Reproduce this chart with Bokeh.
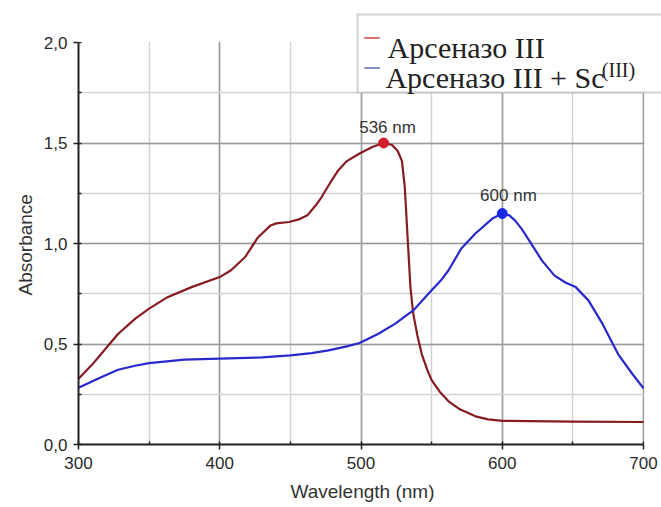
from bokeh.plotting import figure
from bokeh.models import (SingleIntervalTicker, CustomJSTickFormatter, Label,
                          BoxAnnotation, Range1d, Title)
from bokeh.embed import file_html
from bokeh.resources import INLINE

# ---- data ----
wl_red = [300, 310, 316, 328, 340, 350, 363, 380, 400, 408, 418, 427, 436, 440,
          449, 456, 462, 468, 472, 478, 484, 490, 499, 508, 516, 522, 526, 529,
          531, 533, 535, 537, 540, 543, 547, 550, 556, 562, 570, 581, 590, 600,
          650, 700]
abs_red = [0.327, 0.40, 0.45, 0.55, 0.625, 0.676, 0.733, 0.783, 0.833, 0.867,
           0.933, 1.03, 1.09, 1.10, 1.107, 1.12, 1.14, 1.19, 1.23, 1.30, 1.365,
           1.41, 1.448, 1.48, 1.50, 1.49, 1.46, 1.41, 1.28, 1.03, 0.78, 0.65,
           0.54, 0.45, 0.37, 0.32, 0.26, 0.215, 0.175, 0.14, 0.125, 0.118,
           0.114, 0.112]

wl_blue = [300, 316, 328, 340, 350, 375, 400, 430, 450, 465, 477, 490, 499, 512,
           524, 537, 550, 557, 562, 571, 581, 593, 600, 605, 609, 614, 619, 628,
           637, 645, 652, 661, 671, 682, 692, 700]
abs_blue = [0.282, 0.335, 0.372, 0.392, 0.405, 0.422, 0.427, 0.433, 0.443,
            0.455, 0.468, 0.488, 0.505, 0.55, 0.60, 0.667, 0.767, 0.82, 0.867,
            0.975, 1.05, 1.124, 1.149, 1.14, 1.115, 1.07, 1.016, 0.916, 0.84,
            0.805, 0.783, 0.717, 0.60, 0.45, 0.352, 0.28]

peak_red = (516, 1.50)
peak_blue = (600, 1.149)
peak_labels = ["536 nm", "600 nm"]
legend_labels = ["Арсеназо III", "Арсеназо III + Sc", "(III)"]

X_MIN, X_MAX = 300, 700
Y_MIN, Y_MAX = 0.0, 2.0

RED = "#861c22"
BLUE = "#2828cc"

# frame extends to the top and right edge of the canvas so that the legend
# (which sits partly outside the data area) can be drawn inside it
p = figure(frame_width=583, frame_height=444, min_border_left=78,
           min_border_right=0, min_border_top=0, min_border_bottom=63,
           x_range=Range1d(300, 712.74), y_range=Range1d(0, 2.209),
           output_backend="svg", toolbar_location=None)
p.outline_line_color = None
p.background_fill_color = "white"
p.border_fill_color = "white"

# axes
p.xaxis.ticker = SingleIntervalTicker(interval=100, num_minor_ticks=2)
p.yaxis.ticker = SingleIntervalTicker(interval=0.5, num_minor_ticks=2)
p.xaxis.bounds = (X_MIN, X_MAX)
p.yaxis.bounds = (Y_MIN, Y_MAX)
p.yaxis.formatter = CustomJSTickFormatter(code="return tick.toFixed(1).replace('.', ',')")
p.xaxis.formatter = CustomJSTickFormatter(code="return tick.toFixed(0)")
for ax in (p.xaxis, p.yaxis):
    ax.axis_line_color = "#222222"
    ax.axis_line_width = 2
    ax.major_tick_line_color = "#222222"
    ax.major_tick_line_width = 1.5
    ax.major_tick_out = 5
    ax.major_tick_in = 0
    ax.minor_tick_line_color = "#222222"
    ax.minor_tick_line_width = 1.5
    ax.minor_tick_in = 3
    ax.minor_tick_out = 0
    ax.major_label_text_font = "Liberation Sans"
    ax.major_label_text_font_size = "17px"
    ax.major_label_text_color = "#2a2a2a"
p.xaxis.major_label_standoff = 7
p.yaxis.major_label_standoff = 6

# axis titles as side titles so that they are centred on the data spans
p.add_layout(Title(text="Wavelength (nm)", align="left", offset=212,
                   standoff=18, vertical_align="top",
                   text_font="Liberation Sans", text_font_size="19px",
                   text_font_style="normal", text_color="#333333"), "below")
p.add_layout(Title(text="Absorbance", align="left", offset=149,
                   text_font="Liberation Sans", text_font_size="19px",
                   text_font_style="normal", text_color="#333333"), "left")

# grid
for g in (p.xgrid, p.ygrid):
    g.grid_line_color = "#9a9a9a"
    g.grid_line_width = 1.5
    g.minor_grid_line_color = "#d2d2d2"
    g.minor_grid_line_width = 1.5
p.ygrid.bounds = (0, 1.9)

# curves
p.line(wl_red, abs_red, line_color=RED, line_width=2.2, line_join="round")
p.line(wl_blue, abs_blue, line_color=BLUE, line_width=2.2, line_join="round")
p.scatter([peak_red[0]], [peak_red[1]], size=10, color="#d0202c")
p.scatter([peak_blue[0]], [peak_blue[1]], size=10, color="#1a28e6")

# white covers: no grid above 2,0 or right of 700
p.add_layout(BoxAnnotation(left=290, right=730, bottom=Y_MAX + 0.004, top=2.4,
                           fill_color="white", fill_alpha=1.0, line_color=None))
p.add_layout(BoxAnnotation(left=X_MAX + 0.6, right=730, bottom=-0.1, top=2.4,
                           fill_color="white", fill_alpha=1.0, line_color=None))

p.add_layout(Label(x=518.8, y=1.577, text=peak_labels[0], text_align="center",
                   text_baseline="middle", text_font="Liberation Sans",
                   text_font_size="17px", text_color="#333333"))
p.add_layout(Label(x=604.4, y=1.239, text=peak_labels[1], text_align="center",
                   text_baseline="middle", text_font="Liberation Sans",
                   text_font_size="17px", text_color="#333333"))

# legend box (drawn manually)
p.add_layout(BoxAnnotation(left=497.5, right=715, bottom=1.751, top=2.139,
                           fill_color="white", fill_alpha=1.0,
                           line_color="#6a6a6a", line_width=2))
p.add_layout(Label(x=502.5, y=2.04, text="–", text_align="left",
                   text_baseline="alphabetic", text_font="Liberation Serif",
                   text_font_size="30px", text_font_style="bold",
                   text_color="#d87070"))
p.add_layout(Label(x=518.8, y=1.975, text=legend_labels[0], text_align="left",
                   text_baseline="alphabetic", text_font="Liberation Serif",
                   text_font_size="30px", text_color="#222222"))
p.add_layout(Label(x=502.5, y=1.89, text="–", text_align="left",
                   text_baseline="alphabetic", text_font="Liberation Serif",
                   text_font_size="30px", text_font_style="bold",
                   text_color="#7f8fc0"))
p.add_layout(Label(x=517.3, y=1.826, text=legend_labels[1], text_align="left",
                   text_baseline="alphabetic", text_font="Liberation Serif",
                   text_font_size="30px", text_color="#222222"))
p.add_layout(Label(x=670.5, y=1.863, text=legend_labels[2], text_align="left",
                   text_baseline="alphabetic", text_font="Liberation Serif",
                   text_font_size="20px", text_color="#222222"))

open("out.html", "w").write(file_html(p, INLINE))
